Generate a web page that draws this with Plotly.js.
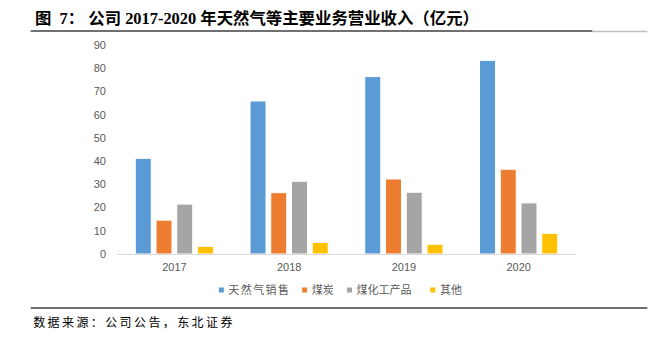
<!DOCTYPE html>
<html>
<head>
<meta charset="utf-8">
<script src="https://cdn.plot.ly/plotly-3.0.1.min.js"></script>
<style>
html,body{margin:0;padding:0;background:#fff;}
#chart{width:652px;height:341px;}
#chart .legendtext{letter-spacing:1.4px;}
#chart .legendpoints path{d:path("M16,3H10V-3H16Z");}
#chart g.annotation[data-index="1"] text{letter-spacing:2.4px;}
</style>
</head>
<body>
<div id="chart"></div>
<script>
const years = ['2017', '2018', '2019', '2020'];
const seriesNames = ['天然气销售', '煤炭', '煤化工产品', '其他'];
const gasSales = [41.2, 65.9, 76.4, 83.4];
const coal = [14.6, 26.4, 32.3, 36.5];
const coalChem = [21.5, 31.3, 26.6, 22.0];
const others = [3.3, 5.0, 4.2, 8.9];
const colors = ['#5B9BD5', '#ED7D31', '#A5A5A5', '#FFC000'];
const yTicks = [0, 10, 20, 30, 40, 50, 60, 70, 80, 90];

const W = 652, H = 341;
const L = 116.5, R = 576.5, T = 45, B = 254;
const px = x => (x - L) / (R - L);
const py = y => (B - y) / (B - T);

const legendIds = ['legend', 'legend2', 'legend3', 'legend4'];
const legendSquareLeft = [218, 301.5, 346.5, 430];

const allSeries = [gasSales, coal, coalChem, others];
const traces = allSeries.map((vals, i) => ({
  type: 'bar',
  name: seriesNames[i],
  x: years,
  y: vals,
  legend: legendIds[i],
  marker: {color: colors[i], line: {color: '#ffffff', width: 1}},
  hoverinfo: 'none'
}));

const legendFont = {family: '"Noto Sans CJK SC", sans-serif', size: 11, color: '#595959'};
const cjk = '"Liberation Serif", "Noto Sans CJK SC", serif';
const layout = {
  width: W, height: H,
  margin: {l: L, r: W - R, t: T, b: H - B},
  paper_bgcolor: '#fff', plot_bgcolor: '#fff',
  barmode: 'group',
  bargap: 0.277,
  bargroupgap: 0.23,
  font: {family: '"Liberation Sans", Arial, sans-serif', color: '#595959', size: 11},
  xaxis: {
    type: 'category',
    showline: true, linecolor: '#D9D9D9', linewidth: 1,
    showgrid: false, zeroline: false, ticks: '',
    ticklabelstandoff: 3,
    tickfont: {size: 11, color: '#595959'}
  },
  yaxis: {
    range: [0, 90],
    tickvals: yTicks,
    showline: false, showgrid: false, zeroline: false, ticks: '',
    ticklabelstandoff: 10,
    tickfont: {size: 11, color: '#595959'}
  },
  showlegend: true,
  shapes: [
    {type: 'line', xref: 'paper', yref: 'paper', x0: px(30), x1: px(593), y0: py(31), y1: py(31), line: {color: '#404040', width: 1.5}},
    {type: 'line', xref: 'paper', yref: 'paper', x0: px(593), x1: px(648), y0: py(31.5), y1: py(31.5), line: {color: '#BFBFBF', width: 1.5}},
    {type: 'line', xref: 'paper', yref: 'paper', x0: px(30), x1: px(648), y0: py(308), y1: py(308), line: {color: '#404040', width: 1.5}}
  ],
  annotations: [
    {xref: 'paper', yref: 'paper', x: px(32), y: py(18), xanchor: 'left', yanchor: 'middle', showarrow: false,
     text: '<b>图&nbsp;&nbsp;7：&nbsp;公司&nbsp;2017-2020&nbsp;年天然气等主要业务营业收入（亿元）</b>',
     font: {family: cjk, size: 16.4, color: '#000'}},
    {xref: 'paper', yref: 'paper', x: px(47), y: py(321), xanchor: 'left', yanchor: 'middle', showarrow: false,
     text: '数据来源：公司公告，东北证券',
     font: {family: '"Noto Sans CJK SC", sans-serif', size: 12, color: '#000'}}
  ]
};
legendIds.forEach((id, i) => {
  layout[id] = {
    orientation: 'h',
    x: px(legendSquareLeft[i] - 30), xanchor: 'left',
    y: py(290), yanchor: 'middle',
    font: legendFont,
    itemwidth: 30,
    borderwidth: 0,
    bgcolor: 'rgba(0,0,0,0)'
  };
});

Plotly.newPlot('chart', traces, layout, {staticPlot: true, displayModeBar: false});
</script>
</body>
</html>
